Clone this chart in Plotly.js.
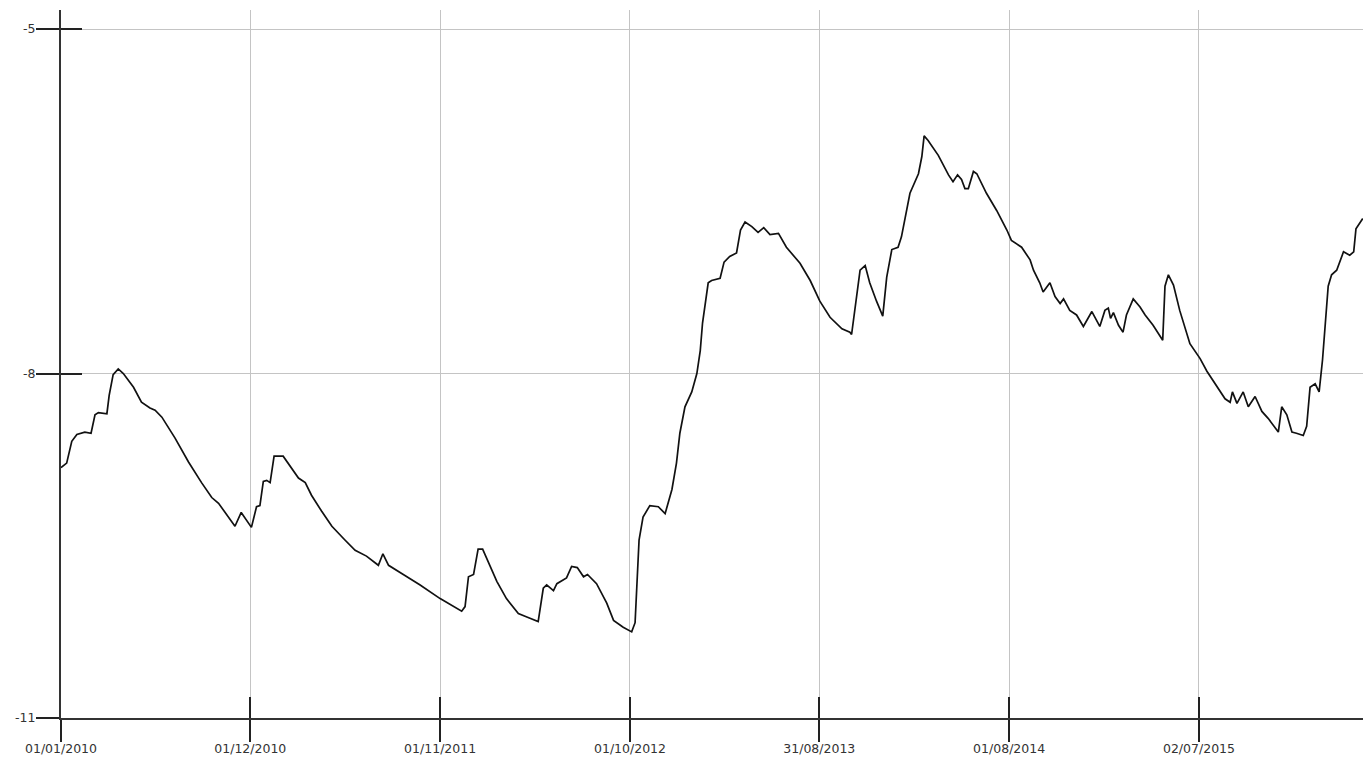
<!DOCTYPE html>
<html>
<head>
<meta charset="utf-8">
<script src="https://cdn.plot.ly/plotly-3.0.1.min.js"></script>
<style>
html,body{margin:0;padding:0;background:#fff;}
#chart{width:1363px;height:759px;}
</style>
</head>
<body>
<div id="chart"></div>
<script>
const dates = [
"2010-01-01","2010-01-11","2010-01-20","2010-01-29","2010-02-12","2010-02-23","2010-03-02","2010-03-08","2010-03-23","2010-03-27",
"2010-04-03","2010-04-12","2010-04-21","2010-05-09","2010-05-23","2010-06-07","2010-06-16","2010-06-28","2010-07-21","2010-08-14",
"2010-09-06","2010-09-24","2010-10-06","2010-10-20","2010-11-04","2010-11-15","2010-11-25","2010-12-03","2010-12-12","2010-12-18",
"2010-12-24","2010-12-30","2011-01-05","2011-01-12","2011-01-28","2011-02-12","2011-02-24","2011-03-08","2011-03-19","2011-04-06",
"2011-04-24","2011-05-17","2011-06-04","2011-06-24","2011-07-15","2011-07-23","2011-08-02","2011-08-28","2011-09-26","2011-11-01",
"2011-11-24","2011-12-09","2011-12-15","2011-12-21","2011-12-30","2012-01-07","2012-01-15","2012-01-22","2012-02-09","2012-02-26",
"2012-03-18","2012-04-02","2012-04-22","2012-05-01","2012-05-07","2012-05-19","2012-05-25","2012-06-11","2012-06-20","2012-06-30",
"2012-07-11","2012-07-18","2012-08-03","2012-08-21","2012-09-02","2012-09-19","2012-10-04","2012-10-10","2012-10-13","2012-10-17",
"2012-10-24","2012-11-05","2012-11-20","2012-12-02","2012-12-14","2012-12-22","2012-12-28","2013-01-06","2013-01-18","2013-01-27",
"2013-02-02","2013-02-06","2013-02-16","2013-02-22","2013-03-09","2013-03-16","2013-03-26","2013-04-07","2013-04-14","2013-04-22",
"2013-05-04","2013-05-15","2013-05-25","2013-06-05","2013-06-20","2013-07-04","2013-07-28","2013-08-15","2013-09-01","2013-09-19",
"2013-10-10","2013-10-24","2013-10-27","2013-11-02","2013-11-11","2013-11-20","2013-11-28","2013-12-10","2013-12-21","2013-12-28",
"2014-01-06","2014-01-17","2014-01-23","2014-02-07","2014-02-22","2014-02-28","2014-03-04","2014-03-11","2014-03-29","2014-04-16",
"2014-04-24","2014-05-02","2014-05-09","2014-05-15","2014-05-21","2014-05-30","2014-06-05","2014-06-22","2014-07-10","2014-07-28",
"2014-08-05","2014-08-23","2014-09-07","2014-09-13","2014-09-24","2014-09-30","2014-10-12","2014-10-21","2014-10-30","2014-11-05",
"2014-11-16","2014-11-28","2014-12-10","2014-12-25","2015-01-08","2015-01-17","2015-01-23","2015-01-27","2015-02-01","2015-02-10",
"2015-02-18","2015-02-24","2015-03-08","2015-03-20","2015-03-29","2015-04-12","2015-04-29","2015-05-03","2015-05-09","2015-05-18",
"2015-05-29","2015-06-16","2015-07-04","2015-07-16","2015-07-30","2015-08-17","2015-08-26","2015-08-30","2015-09-07","2015-09-18",
"2015-09-27","2015-10-09","2015-10-21","2015-11-01","2015-11-19","2015-11-25","2015-12-04","2015-12-13","2015-12-21","2016-01-02",
"2016-01-08","2016-01-14","2016-01-23","2016-01-30","2016-02-05","2016-02-11","2016-02-15","2016-02-21","2016-03-01","2016-03-13",
"2016-03-24","2016-03-31","2016-04-04","2016-04-16"
];
const values = [
-8.82,-8.78,-8.59,-8.53,-8.51,-8.52,-8.36,-8.34,-8.35,-8.19,
-8.01,-7.96,-8.00,-8.12,-8.25,-8.30,-8.32,-8.38,-8.56,-8.77,
-8.95,-9.08,-9.13,-9.23,-9.33,-9.21,-9.28,-9.34,-9.16,-9.15,
-8.94,-8.93,-8.95,-8.72,-8.72,-8.82,-8.91,-8.95,-9.06,-9.20,
-9.33,-9.45,-9.54,-9.59,-9.67,-9.57,-9.67,-9.75,-9.84,-9.96,
-10.03,-10.07,-10.03,-9.77,-9.75,-9.53,-9.53,-9.61,-9.81,-9.96,
-10.09,-10.12,-10.16,-9.87,-9.84,-9.89,-9.83,-9.78,-9.68,-9.69,
-9.77,-9.75,-9.83,-10.00,-10.15,-10.21,-10.25,-10.17,-9.83,-9.45,
-9.25,-9.15,-9.16,-9.22,-9.01,-8.78,-8.52,-8.29,-8.16,-8.00,
-7.80,-7.56,-7.21,-7.19,-7.17,-7.03,-6.98,-6.95,-6.75,-6.68,
-6.72,-6.77,-6.73,-6.79,-6.78,-6.90,-7.04,-7.19,-7.37,-7.51,
-7.61,-7.64,-7.66,-7.45,-7.10,-7.06,-7.21,-7.37,-7.50,-7.16,
-6.92,-6.90,-6.81,-6.43,-6.26,-6.11,-5.93,-5.97,-6.10,-6.27,
-6.33,-6.27,-6.31,-6.39,-6.39,-6.24,-6.26,-6.43,-6.58,-6.75,
-6.84,-6.90,-7.01,-7.10,-7.21,-7.29,-7.21,-7.33,-7.39,-7.35,
-7.45,-7.49,-7.59,-7.46,-7.59,-7.45,-7.43,-7.52,-7.47,-7.58,
-7.64,-7.49,-7.35,-7.42,-7.49,-7.58,-7.71,-7.24,-7.14,-7.23,
-7.45,-7.74,-7.87,-7.98,-8.09,-8.22,-8.25,-8.16,-8.26,-8.16,
-8.29,-8.20,-8.33,-8.39,-8.51,-8.29,-8.36,-8.51,-8.52,-8.54,
-8.46,-8.12,-8.09,-8.16,-7.88,-7.53,-7.24,-7.14,-7.10,-6.94,
-6.97,-6.94,-6.74,-6.65
];
const xTickDates = ["2010-01-01","2010-12-01","2011-11-01","2012-10-01","2013-08-31","2014-08-01","2015-07-02"];
const xTickLabels = ["01/01/2010","01/12/2010","01/11/2011","01/10/2012","31/08/2013","01/08/2014","02/07/2015"];
const yTickVals = [-11, -8, -5];
const yTickLabels = ["-11", "-8", "-5"];

const xRange = ["2010-01-01", "2016-04-16 10:00"];
const yRange = [-11, -4.834];
const font = {family: "DejaVu Sans, Verdana, sans-serif", size: 12.5, color: "#333"};

const traces = [{
  x: dates, y: values, type: "scatter", mode: "lines",
  line: {color: "#111", width: 1.7},
  hoverinfo: "skip", showlegend: false
}];

const layout = {
  width: 1363, height: 759,
  margin: {l: 61, r: 0, t: 10, b: 41, pad: 0},
  paper_bgcolor: "#fff", plot_bgcolor: "#fff",
  showlegend: false,
  font: font,
  xaxis: {
    type: "date", range: xRange, fixedrange: true,
    tickmode: "array", tickvals: xTickDates, ticktext: xTickLabels,
    ticks: "outside", ticklen: 22, tickwidth: 2, tickcolor: "#222",
    ticklabelstandoff: -4,
    showline: true, linecolor: "#333", linewidth: 2,
    showgrid: true, gridcolor: "#c4c4c4", gridwidth: 1,
    zeroline: false, tickfont: font
  },
  xaxis2: {
    type: "date", range: xRange, overlaying: "x", side: "bottom", fixedrange: true,
    tickmode: "array", tickvals: xTickDates,
    ticks: "inside", ticklen: 21, tickwidth: 2, tickcolor: "#222",
    showticklabels: false, showline: false, showgrid: false, zeroline: false
  },
  yaxis: {
    range: yRange, fixedrange: true,
    tickmode: "array", tickvals: yTickVals, ticktext: yTickLabels,
    ticks: "outside", ticklen: 23, tickwidth: 2, tickcolor: "#222",
    ticklabelstandoff: -2,
    showline: true, linecolor: "#333", linewidth: 2,
    showgrid: true, gridcolor: "#c4c4c4", gridwidth: 1,
    zeroline: false, tickfont: font
  },
  yaxis2: {
    range: yRange, overlaying: "y", side: "left", fixedrange: true,
    tickmode: "array", tickvals: yTickVals,
    ticks: "inside", ticklen: 21, tickwidth: 2, tickcolor: "#222",
    showticklabels: false, showline: false, showgrid: false, zeroline: false
  }
};

// invisible helper trace that activates the overlay axes drawing the inner half of the crossing ticks
traces.push({x: [xRange[0]], y: [yRange[0]], xaxis: "x2", yaxis: "y2", type: "scatter", mode: "markers",
  marker: {opacity: 0}, hoverinfo: "skip", showlegend: false});

Plotly.newPlot("chart", traces, layout, {displayModeBar: false, staticPlot: true});
</script>
</body>
</html>
